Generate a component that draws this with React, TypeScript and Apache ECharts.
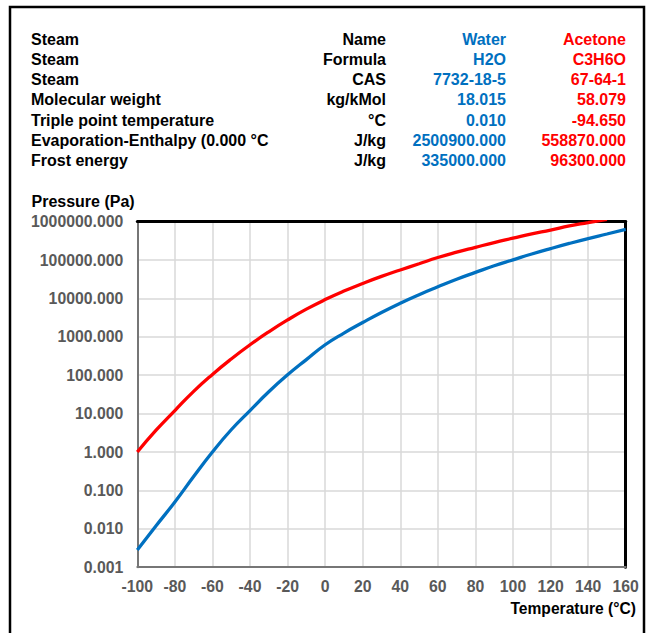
import React, { useEffect, useRef } from "react";
import * as echarts from "echarts";

// ---- Table data ----
const rowLabels = [
  "Steam",
  "Steam",
  "Steam",
  "Molecular weight",
  "Triple point temperature",
  "Evaporation-Enthalpy (0.000 °C",
  "Frost energy",
];
const rowUnits = ["Name", "Formula", "CAS", "kg/kMol", "°C", "J/kg", "J/kg"];
const waterInfo = ["Water", "H2O", "7732-18-5", "18.015", "0.010", "2500900.000", "335000.000"];
const acetoneInfo = ["Acetone", "C3H6O", "67-64-1", "58.079", "-94.650", "558870.000", "96300.000"];

// ---- Chart data ----
const temperatures = [
  -100, -90, -80, -70, -60, -50, -40, -30, -20, -10, 0, 10, 20, 30, 40, 50, 60, 70, 80, 90, 100, 110, 120,
  130, 140, 150, 160,
];
const waterPressure = [
  0.0028, 0.012, 0.05, 0.23, 1.0, 3.8, 12, 37, 102, 255, 620, 1250, 2350, 4300, 7500, 12500, 20000, 31500,
  47500, 71000, 101000, 143000, 198000, 270000, 362000, 476000, 630000,
];
const acetonePressure = [
  1.0, 3.7, 12, 38, 105, 265, 620, 1350, 2750, 5250, 9300, 15500, 24500, 37500, 55000, 80000, 116000, 160000,
  214000, 285000, 370000, 480000, 600000, 770000, 940000, 1150000,
];

const BLUE = "#0070C0";
const RED = "#FF0000";
const FONT_FAMILY = '"Liberation Sans", Arial, sans-serif';
const FONT = `bold 16px ${FONT_FAMILY}`;

export default function App() {
  const ref = useRef<HTMLDivElement>(null);

  useEffect(() => {
    if (!ref.current) return;
    const chart = echarts.init(ref.current, undefined, { renderer: "svg" });

    const rowY = [39, 59.3, 79.5, 99.7, 120, 140.2, 160.5];
    const tableTexts: any[] = [];
    rowLabels.forEach((t, i) => {
      tableTexts.push({
        type: "text",
        style: { text: t, x: 31, y: rowY[i], fill: "#000", font: FONT, align: "left", verticalAlign: "middle" },
      });
      tableTexts.push({
        type: "text",
        style: { text: rowUnits[i], x: 386, y: rowY[i], fill: "#000", font: FONT, align: "right", verticalAlign: "middle" },
      });
      tableTexts.push({
        type: "text",
        style: { text: waterInfo[i], x: 506, y: rowY[i], fill: BLUE, font: FONT, align: "right", verticalAlign: "middle" },
      });
      tableTexts.push({
        type: "text",
        style: { text: acetoneInfo[i], x: 626, y: rowY[i], fill: RED, font: FONT, align: "right", verticalAlign: "middle" },
      });
    });

    const option: any = {
      animation: false,
      backgroundColor: "#fff",
      grid: { left: 137.3, right: 23.3, top: 221.6, bottom: 65.8, containLabel: false },
      xAxis: [
        {
          type: "value",
          min: -100,
          max: 160,
          interval: 20,
          position: "bottom",
          axisLine: { show: true, onZero: false, lineStyle: { color: "#767676", width: 2 } },
          axisTick: { show: false },
          axisLabel: { color: "#595959", fontSize: 15.8, fontWeight: "bold", fontFamily: FONT_FAMILY, margin: 11 },
          splitLine: { show: true, lineStyle: { color: "#d9d9d9", width: 1.5 } },
        },
        {
          type: "value",
          min: 0,
          max: 1,
          position: "top",
          axisLine: { show: true, onZero: false, lineStyle: { color: "#000", width: 3 } },
          axisTick: { show: false },
          axisLabel: { show: false },
          splitLine: { show: false },
        },
      ],
      yAxis: [
        {
          type: "log",
          logBase: 10,
          min: 0.001,
          max: 1000000,
          interval: 1,
          position: "left",
          axisLine: { show: true, onZero: false, lineStyle: { color: "#767676", width: 2 } },
          axisTick: { show: false },
          axisLabel: {
            color: "#595959",
            fontSize: 15.8,
            fontWeight: "bold",
            fontFamily: FONT_FAMILY,
            margin: 14,
            formatter: (v: number) => Number(v).toFixed(3),
          },
          splitLine: { show: true, lineStyle: { color: "#d9d9d9", width: 1.5 } },
        },
        {
          type: "value",
          min: 0,
          max: 1,
          position: "right",
          axisLine: { show: true, onZero: false, lineStyle: { color: "#000", width: 3 } },
          axisTick: { show: false },
          axisLabel: { show: false },
          splitLine: { show: false },
        },
      ],
      series: [
        {
          name: "Water",
          type: "line",
          xAxisIndex: 0,
          yAxisIndex: 0,
          data: temperatures.map((t, i) => [t, waterPressure[i]]),
          smooth: true,
          showSymbol: false,
          symbol: "none",
          clip: true,
          lineStyle: { color: BLUE, width: 3.3 },
          z: 3,
        },
        {
          name: "Acetone",
          type: "line",
          xAxisIndex: 0,
          yAxisIndex: 0,
          data: acetonePressure.map((p, i) => [temperatures[i], p]),
          smooth: true,
          showSymbol: false,
          symbol: "none",
          clip: true,
          lineStyle: { color: RED, width: 3.3 },
          z: 3,
        },
      ],
      graphic: [
        {
          type: "rect",
          shape: { x: 10, y: 7, width: 634, height: 700 },
          style: { fill: "none", stroke: "#000", lineWidth: 2.5 },
          silent: true,
        },
        ...tableTexts,
        {
          type: "text",
          style: {
            text: "Pressure (Pa)",
            x: 31.5,
            y: 201.5,
            fill: "#000",
            font: FONT,
            align: "left",
            verticalAlign: "middle",
          },
        },
        {
          type: "text",
          style: {
            text: "Temperature (°C)",
            x: 636,
            y: 608,
            fill: "#000",
            font: `bold 15.6px ${FONT_FAMILY}`,
            align: "right",
            verticalAlign: "middle",
          },
        },
      ],
    };

    chart.setOption(option);
    return () => chart.dispose();
  }, []);

  return (
    <div
      ref={ref}
      style={{ position: "fixed", left: 0, top: 0, width: 649, height: 633, background: "#fff" }}
    />
  );
}
